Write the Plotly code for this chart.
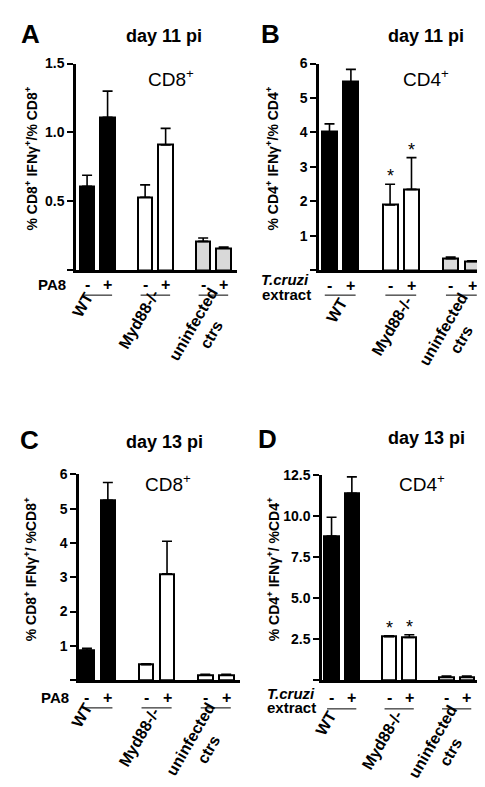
import plotly.graph_objects as go

W, H = 485, 787
FONT = "Liberation Sans, Arial, sans-serif"

# ---------------- data ----------------
groups = ["WT", "Myd88-/-", "uninfected<br>ctrs"]
treatments = ["-", "+", "-", "+", "-", "+"]

a_mean = [0.61, 1.11, 0.53, 0.91, 0.21, 0.16]
a_err = [0.08, 0.19, 0.09, 0.12, 0.025, 0.01]

b_mean = [4.02, 5.47, 1.90, 2.35, 0.34, 0.26]
b_err = [0.23, 0.36, 0.60, 0.92, 0.05, 0.02]

c_mean = [0.88, 5.24, 0.45, 3.10, 0.15, 0.15]
c_err = [0.05, 0.52, 0.03, 0.95, 0.02, 0.02]

d_mean = [8.80, 11.40, 2.65, 2.60, 0.20, 0.20]
d_err = [1.14, 1.00, 0.05, 0.17, 0.05, 0.05]

a_ticks = [0, 0.5, 1.0, 1.5]
b_ticks = [0, 1, 2, 3, 4, 5, 6]
c_ticks = [0, 1, 2, 3, 4, 5, 6]
d_ticks = [0, 2.5, 5.0, 7.5, 10.0, 12.5]

# bar layout (positions in axis units)
GROUP_STEP = 2.83
pos = []
for g in range(3):
    pos += [g * GROUP_STEP, g * GROUP_STEP + 1]

# empirical correction for rotated annotation placement (px)
ROT_DX, ROT_DY = -9, -11
YT_DX, YT_DY = -8, -8


def fx(p):
    return p / W


def fy(p):
    return 1 - p / H


panels = [
    dict(n="", letter="A", day="day 11 pi", cell="CD8<sup>+</sup>",
         ytitle="% CD8<sup>+</sup> IFNγ<sup>+</sup>/% CD8<sup>+</sup>",
         mean=a_mean, err=a_err, ticks=a_ticks, fmt="{:.1f}",
         colors=["black", "black", "white", "white", "#d9d9d9", "#d9d9d9"],
         xd=(68, 229), yd=(48, 257), xr=(-0.54, 7.31),
         letter_xy=(22, 18), day_xy=(156, 20), cell_xy=(163, 63), yt_xy=(31, 152),
         stim=[("<b>PA8</b>", 44, 271, "center")], pm_y=271, line_y=282,
         glabels=[(83, 303), (140, 318), (203, 328)], stars=[]),
    dict(n="2", letter="B", day="day 11 pi", cell="CD4<sup>+</sup>",
         ytitle="% CD4<sup>+</sup> IFNγ<sup>+</sup>/% CD4<sup>+</sup>",
         mean=b_mean, err=b_err, ticks=b_ticks, fmt="{:.0f}",
         colors=["black", "black", "white", "white", "#d9d9d9", "#d9d9d9"],
         xd=(311, 478), yd=(48, 257), xr=(-0.49, 7.31),
         letter_xy=(262, 18), day_xy=(418, 20), cell_xy=(418, 63), yt_xy=(272, 152),
         stim=[("<b><i>T.cruzi</i></b>", 303, 266, "right"), ("<b>extract</b>", 305, 281, "right")],
         pm_y=272, line_y=282,
         glabels=[(338, 309), (393, 325), (453, 333)], stars=[2, 3]),
    dict(n="3", letter="C", day="day 13 pi", cell="CD8<sup>+</sup>",
         ytitle="% CD8<sup>+</sup> IFNγ<sup>+</sup>/ %CD8<sup>+</sup>",
         mean=c_mean, err=c_err, ticks=c_ticks, fmt="{:.0f}",
         colors=["black", "black", "white", "white", "white", "white"],
         xd=(71, 232), yd=(463, 671), xr=(-0.38, 7.32),
         letter_xy=(21, 428), day_xy=(156, 430), cell_xy=(160, 472), yt_xy=(30, 567),
         stim=[("<b>PA8</b>", 47, 688, "center")], pm_y=688, line_y=699,
         glabels=[(83, 718), (140, 740), (200, 747)], stars=[]),
    dict(n="4", letter="D", day="day 13 pi", cell="CD4<sup>+</sup>",
         ytitle="% CD4<sup>+</sup> IFNγ<sup>+</sup>/ %CD4<sup>+</sup>",
         mean=d_mean, err=d_err, ticks=d_ticks, fmt="{:.1f}",
         colors=["black", "black", "white", "white", "white", "white"],
         xd=(314, 472), yd=(464, 671), xr=(-0.47, 7.31),
         letter_xy=(259, 427), day_xy=(418, 426), cell_xy=(414, 472), yt_xy=(273, 567),
         stim=[("<b><i>T.cruzi</i></b>", 309, 684, "right"), ("<b>extract</b>", 310, 699, "right")],
         pm_y=688, line_y=700,
         glabels=[(327, 726), (383, 743), (443, 750)], stars=[2, 3]),
]

fig = go.Figure()
annotations = []
shapes = []
layout = {}


def ann(text, x, y, size, bold=False, angle=0, xanchor="center", xref="paper", yref="paper"):
    annotations.append(dict(
        text=text, x=x, y=y, xref=xref, yref=yref, showarrow=False,
        xanchor=xanchor, yanchor="middle", textangle=angle,
        font=dict(family=FONT, size=size, color="black", weight="bold" if bold else "normal"),
    ))


for p in panels:
    xa = "x" + p["n"]
    ya = "y" + p["n"]
    fig.add_trace(go.Bar(
        x=pos, y=p["mean"], xaxis=xa, yaxis=ya, width=0.7,
        marker=dict(color=p["colors"], line=dict(color="black", width=2)),
        error_y=dict(type="data", symmetric=False, array=p["err"],
                     arrayminus=[0] * len(p["err"]), color="black",
                     thickness=1.6, width=5),
        showlegend=False, hoverinfo="y",
    ))
    ticktext = [""] + [p["fmt"].format(t) for t in p["ticks"][1:]]
    layout["xaxis" + p["n"]] = dict(
        domain=[fx(p["xd"][0]), fx(p["xd"][1])], range=list(p["xr"]), anchor=ya,
        showline=True, linecolor="black", linewidth=2.5, showticklabels=False,
        ticks="", showgrid=False, zeroline=False, fixedrange=True,
    )
    layout["yaxis" + p["n"]] = dict(
        domain=[fy(p["yd"][1]), fy(p["yd"][0])], range=[0, p["ticks"][-1]], anchor=xa,
        showline=True, linecolor="black", linewidth=2.5, ticks="outside",
        ticklen=6, tickwidth=2, tickcolor="black",
        tickvals=p["ticks"], ticktext=ticktext,
        tickfont=dict(family=FONT, size=14, color="black", weight="bold"),
        showgrid=False, zeroline=False, fixedrange=True,
    )

    ann(p["letter"], fx(p["letter_xy"][0]), fy(p["letter_xy"][1]), 26, bold=True)
    ann(p["day"], fx(p["day_xy"][0]), fy(p["day_xy"][1]), 18, bold=True)
    ann(p["cell"], fx(p["cell_xy"][0]), fy(p["cell_xy"][1]), 19)
    ann(p["ytitle"], fx(p["yt_xy"][0] + YT_DX), fy(p["yt_xy"][1] + YT_DY), 14, bold=True, angle=-90)
    for text, sx, sy, anc in p["stim"]:
        ann(text, fx(sx), fy(sy), 15, xanchor=anc)
    for xi, t in zip(pos, treatments):
        ann("<b>" + t + "</b>", xi, fy(p["pm_y"]), 16, xref=xa)
    for g, (gx, gy) in enumerate(p["glabels"]):
        ann(groups[g], fx(gx + ROT_DX), fy(gy + ROT_DY), 16, bold=True, angle=-60)
        c = (pos[2 * g] + pos[2 * g + 1]) / 2
        shapes.append(dict(type="line", xref=xa, yref="paper",
                           x0=c - 0.72, x1=c + 0.72, y0=fy(p["line_y"]), y1=fy(p["line_y"]),
                           line=dict(color="black", width=1)))
    for i in p["stars"]:
        annotations.append(dict(
            text="*", x=pos[i], y=p["mean"][i] + p["err"][i], xref=xa, yref=ya,
            showarrow=False, xanchor="center", yanchor="bottom", yshift=-4,
            font=dict(family=FONT, size=18, color="black"),
        ))

fig.update_layout(
    width=W, height=H, margin=dict(l=0, r=0, t=0, b=0),
    paper_bgcolor="white", plot_bgcolor="white",
    annotations=annotations, shapes=shapes, bargap=0, **layout,
)

fig.write_html("out.html")
